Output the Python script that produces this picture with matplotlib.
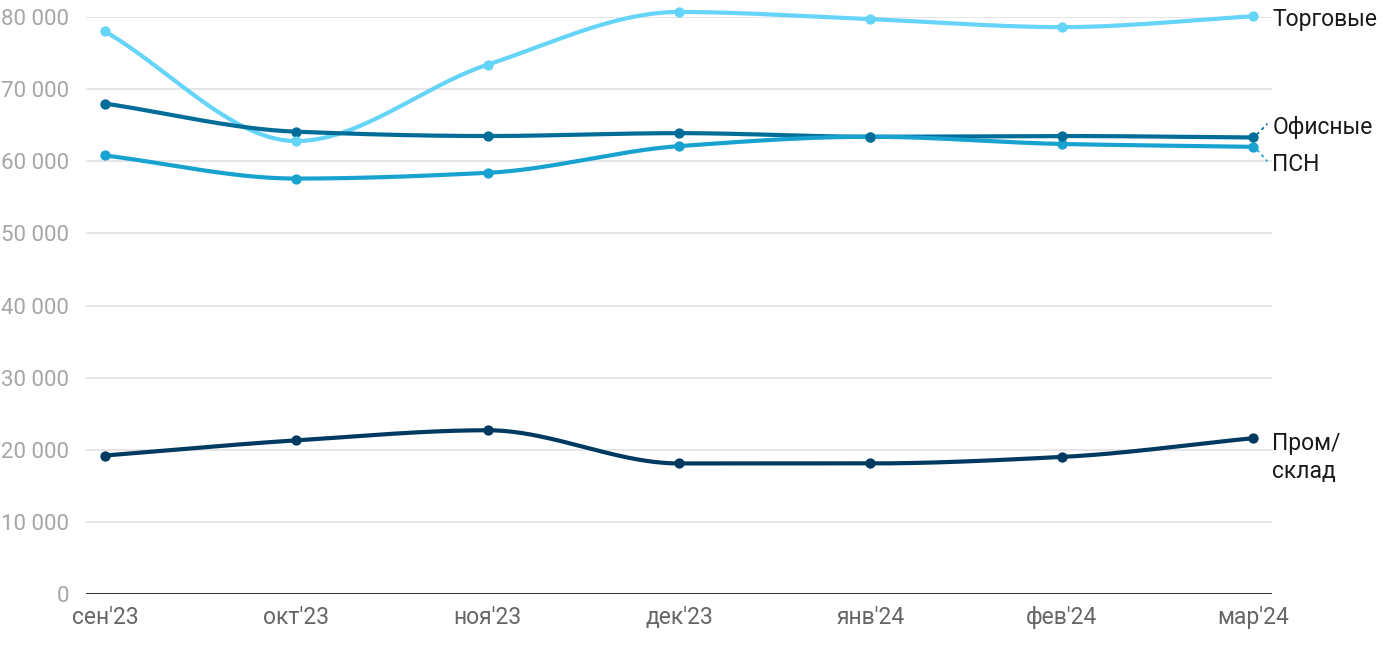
import numpy as np
import matplotlib
matplotlib.use("Agg")
import matplotlib.pyplot as plt

plt.rcParams['font.family'] = ['Roboto', 'DejaVu Sans']

months = ["сен'23", "окт'23", "ноя'23", "дек'23", "янв'24", "фев'24", "мар'24"]
trade = [78000, 62800, 73400, 80700, 79700, 78600, 80100]
office = [68000, 64100, 63500, 63900, 63400, 63500, 63300]
psn = [60800, 57600, 58400, 62100, 63400, 62400, 62000]
prom = [19200, 21300, 22700, 18100, 18100, 19000, 21600]

names = ["Торговые", "Офисные", "ПСН", "Пром/\nсклад"]
colors = ["#64d4f8", "#006d98", "#17a2cf", "#003a60"]
series = [trade, office, psn, prom]


def pchip(x, y, xs):
    # monotone cubic (Fritsch-Carlson) for smooth lines
    x = np.asarray(x, float)
    y = np.asarray(y, float)
    h = np.diff(x)
    d = np.diff(y) / h
    m = np.zeros_like(y)
    for i in range(1, len(y) - 1):
        if d[i - 1] * d[i] > 0:
            w1 = 2 * h[i] + h[i - 1]
            w2 = h[i] + 2 * h[i - 1]
            m[i] = (w1 + w2) / (w1 / d[i - 1] + w2 / d[i])
    m[0] = d[0]
    m[-1] = d[-1]
    out = np.empty_like(xs)
    for j, t in enumerate(xs):
        i = min(np.searchsorted(x, t, side='right') - 1, len(x) - 2)
        i = max(i, 0)
        s = (t - x[i]) / h[i]
        h00 = 2 * s**3 - 3 * s**2 + 1
        h10 = s**3 - 2 * s**2 + s
        h01 = -2 * s**3 + 3 * s**2
        h11 = s**3 - s**2
        out[j] = h00 * y[i] + h10 * h[i] * m[i] + h01 * y[i + 1] + h11 * h[i] * m[i + 1]
    return out


fig = plt.figure(figsize=(14, 6.5), dpi=100)
ax = fig.add_axes([0.0614, 0.0862, 0.8472, 0.8876])

x = np.arange(len(months))
xs = np.linspace(0, len(months) - 1, 400)

for yv in range(10000, 80001, 10000):
    ax.axhline(yv, color="#e1e1e1", lw=1.2, zorder=0)
ax.axhline(0, color="#1a1a1a", lw=2, zorder=1)

order = [3, 2, 1, 0]
for k in order:
    s = series[k]
    ax.plot(xs, pchip(x, s, xs), color=colors[k], lw=3, zorder=3 + k * 0.1,
            clip_on=False, solid_capstyle='round')
    ax.scatter(x, s, s=55, color=colors[k], zorder=4, clip_on=False, linewidths=0)

ax.set_xlim(-0.0993, 6.0993)
ax.set_ylim(0, 80000)
ax.set_xticks(x)
ax.set_xticklabels(months)
ax.set_yticks(range(0, 80001, 10000))
ax.set_yticklabels([f"{v:,}".replace(",", " ") for v in range(0, 80001, 10000)])
ax.tick_params(axis='y', length=0, pad=12, labelsize=16, labelcolor="#a6a6a6")
ax.tick_params(axis='x', length=0, pad=9, labelsize=16.5, labelcolor="#666666")
for sp in ax.spines.values():
    sp.set_visible(False)

# right side labels
lx = 6.1
fs = 16.5
ax.text(lx, trade[-1] - 500, names[0], fontsize=fs, color="#1a1a1a",
        va='center', ha='left', clip_on=False)
ax.text(lx, 64700, names[1], fontsize=fs, color="#1a1a1a",
        va='center', ha='left', clip_on=False)
ax.text(lx, 59500, names[2], fontsize=fs, color="#1a1a1a",
        va='center', ha='left', clip_on=False)
ax.text(lx, prom[-1] - 2700, names[3], fontsize=fs, color="#1a1a1a",
        va='center', ha='left', clip_on=False, linespacing=1.25)
ax.plot([6.02, 6.075], [office[-1] + 400, 65200], color=colors[1], lw=1.2,
        ls=(0, (2, 2)), clip_on=False)
ax.plot([6.02, 6.075], [psn[-1] - 400, 60000], color=colors[2], lw=1.2,
        ls=(0, (2, 2)), clip_on=False)

fig.savefig("out.png", dpi=100)
